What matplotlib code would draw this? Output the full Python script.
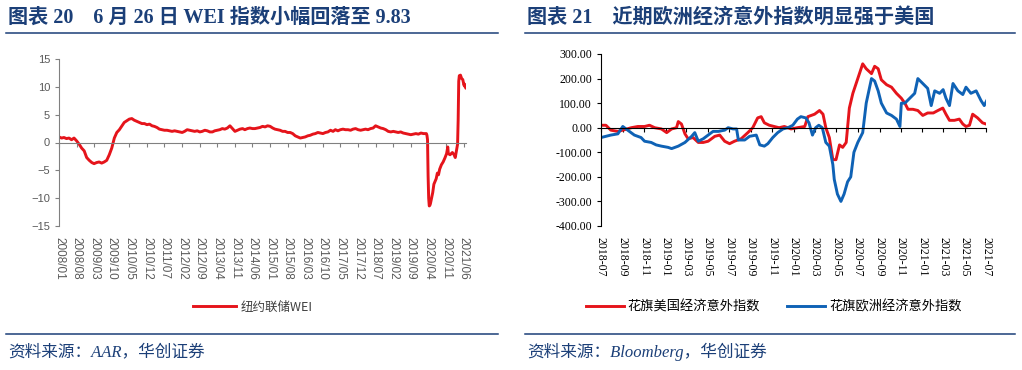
import matplotlib
matplotlib.use("Agg")
import matplotlib.pyplot as plt
from matplotlib.lines import Line2D
import pandas as pd

plt.rcParams['font.family'] = ['Liberation Sans', 'Noto Sans CJK SC']
plt.rcParams['axes.unicode_minus'] = True

# ---------------- data: left chart (NY Fed WEI) ----------------
wei_monthly = [
    1.0, 0.8, 0.9, 0.7, 0.8, 0.5, 0.8, 0.3, -0.3, -1.0, -1.5, -2.7,      # 2008
    -3.2, -3.6, -3.8, -3.6, -3.5, -3.7, -3.5, -3.2, -2.2, -1.0, 0.8, 1.8,  # 2009
    2.3, 3.0, 3.6, 3.9, 4.2, 4.3, 4.0, 3.8, 3.6, 3.4, 3.4, 3.2,          # 2010
    3.3, 3.0, 2.9, 2.7, 2.4, 2.3, 2.2, 2.2, 2.1, 2.0, 2.1, 2.0,          # 2011
    1.9, 1.8, 2.0, 2.3, 2.2, 2.1, 2.0, 2.1, 1.9, 2.0, 2.2, 2.1,          # 2012
    1.9, 1.9, 2.1, 2.2, 2.3, 2.5, 2.4, 2.6, 3.0, 2.5, 2.0, 2.2,          # 2013
    2.4, 2.5, 2.3, 2.5, 2.6, 2.5, 2.5, 2.6, 2.7, 2.9, 2.8, 3.0,          # 2014
    2.9, 2.6, 2.4, 2.3, 2.2, 2.0, 2.0, 1.8, 1.8, 1.6, 1.2, 1.0,          # 2015
    0.8, 0.9, 1.0, 1.2, 1.3, 1.5, 1.6, 1.8, 1.7, 1.6, 1.8, 1.9,          # 2016
    2.2, 2.0, 2.3, 2.1, 2.3, 2.4, 2.3, 2.3, 2.2, 2.4, 2.5, 2.3,          # 2017
    2.2, 2.3, 2.4, 2.3, 2.5, 2.6, 3.0, 2.8, 2.6, 2.5, 2.3, 2.0,          # 2018
    1.9, 2.0, 1.9, 1.8, 1.9, 1.7, 1.6, 1.5, 1.4, 1.5, 1.6, 1.5,          # 2019
    1.7, 1.6,                                                            # 2020
]
wei_recent_dates = [
    '2020-03-07', '2020-03-14', '2020-03-21', '2020-03-28', '2020-04-04',
    '2020-04-11', '2020-04-18', '2020-04-25', '2020-05-09', '2020-05-23',
    '2020-06-06', '2020-06-20', '2020-07-04', '2020-07-18', '2020-08-01',
    '2020-08-15', '2020-09-05', '2020-09-26', '2020-10-17', '2020-11-07',
    '2020-11-21', '2020-11-28', '2020-12-19', '2021-01-16', '2021-02-06',
    '2021-02-20', '2021-03-06', '2021-03-20', '2021-03-27', '2021-04-03',
    '2021-04-10', '2021-04-24', '2021-05-08', '2021-05-22', '2021-06-05',
    '2021-06-12', '2021-06-19', '2021-06-26',
]
wei_recent = [
    1.6, 1.3, 0.5, -6.0, -10.0,
    -11.4, -11.3, -11.0, -10.0, -9.0,
    -7.5, -7.0, -6.5, -5.5, -5.8,
    -4.8, -4.0, -3.5, -2.8, -2.0,
    -0.8, -2.0, -2.2, -1.8, -2.2,
    -2.7, -1.5, -0.3, 4.0, 11.0,
    12.0, 12.1, 11.5, 11.3, 10.3,
    10.5, 10.0, 9.83,
]
wei_ticks = ['2008/01', '2008/08', '2009/03', '2009/10', '2010/05', '2010/12',
             '2011/07', '2012/02', '2012/09', '2013/04', '2013/11', '2014/06',
             '2015/01', '2015/08', '2016/03', '2016/10', '2017/05', '2017/12',
             '2018/07', '2019/02', '2019/09', '2020/04', '2020/11', '2021/06']

# ---------------- data: right chart (Citi surprise indices) ----------------
us_dates = [
    '2018-07-01', '2018-07-15', '2018-07-29', '2018-08-18', '2018-09-01', '2018-09-25',
    '2018-10-14', '2018-11-02', '2018-11-16', '2018-12-01', '2018-12-20', '2019-01-04',
    '2019-01-18', '2019-02-01', '2019-02-06', '2019-02-15', '2019-02-25', '2019-03-06',
    '2019-03-20', '2019-04-04', '2019-04-18', '2019-05-02', '2019-05-21', '2019-06-04',
    '2019-06-18', '2019-07-02', '2019-07-16', '2019-08-04', '2019-08-23', '2019-09-06',
    '2019-09-20', '2019-09-30', '2019-10-09', '2019-10-23', '2019-11-06', '2019-11-20',
    '2019-12-05', '2019-12-24', '2020-01-11', '2020-02-01', '2020-02-10', '2020-02-29',
    '2020-03-14', '2020-03-24', '2020-04-01', '2020-04-11', '2020-04-21', '2020-04-30',
    '2020-05-10', '2020-05-19', '2020-05-29', '2020-06-07', '2020-06-17', '2020-07-01',
    '2020-07-15', '2020-07-25', '2020-08-09', '2020-08-18', '2020-08-28', '2020-09-06',
    '2020-09-21', '2020-10-05', '2020-10-19', '2020-11-02', '2020-11-12', '2020-11-21',
    '2020-12-05', '2020-12-19', '2021-01-02', '2021-01-16', '2021-02-01', '2021-02-14',
    '2021-02-28', '2021-03-09', '2021-03-19', '2021-04-02', '2021-04-16', '2021-04-26',
    '2021-05-05', '2021-05-15', '2021-05-24', '2021-06-07', '2021-06-21', '2021-07-01',
]
us_vals = [
    10, 10, -10, -15, -10, 0,
    5, 5, 10, 0, -5, -20,
    -5, 0, 25, 15, -25, -45,
    -40, -60, -60, -55, -35, -30,
    -55, -65, -55, -45, -20, 0,
    40, 45, 20, 10, 5, 0,
    5, -5, 0, 5, 45, 55,
    70, 55, 0, -40, -130, -130,
    -70, -80, -60, 80, 140, 200,
    260, 240, 220, 250, 240, 195,
    175, 165, 140, 120, 100, 75,
    75, 70, 50, 60, 60, 70,
    80, 55, 30, 30, 35, 15,
    5, 10, 55, 40, 20, 15,
]
eu_dates = [
    '2018-07-01', '2018-07-15', '2018-07-29', '2018-08-18', '2018-09-01', '2018-09-15',
    '2018-10-04', '2018-10-23', '2018-11-02', '2018-11-21', '2018-12-05', '2018-12-20',
    '2019-01-08', '2019-01-18', '2019-02-06', '2019-02-25', '2019-03-16', '2019-03-25',
    '2019-04-04', '2019-04-18', '2019-05-02', '2019-05-16', '2019-05-31', '2019-06-18',
    '2019-06-28', '2019-07-12', '2019-07-22', '2019-07-27', '2019-08-14', '2019-08-28',
    '2019-09-16', '2019-09-26', '2019-10-09', '2019-10-19', '2019-11-02', '2019-11-16',
    '2019-12-01', '2019-12-15', '2019-12-29', '2020-01-11', '2020-01-21', '2020-02-04',
    '2020-02-13', '2020-02-23', '2020-03-03', '2020-03-12', '2020-03-22', '2020-04-01',
    '2020-04-11', '2020-04-21', '2020-04-25', '2020-05-04', '2020-05-14', '2020-05-23',
    '2020-06-02', '2020-06-11', '2020-06-20', '2020-07-01', '2020-07-15', '2020-07-25',
    '2020-08-09', '2020-08-18', '2020-08-28', '2020-09-06', '2020-09-21', '2020-10-05',
    '2020-10-19', '2020-10-29', '2020-11-02', '2020-11-12', '2020-11-26', '2020-12-10',
    '2020-12-19', '2021-01-02', '2021-01-16', '2021-01-26', '2021-02-05', '2021-02-19',
    '2021-03-01', '2021-03-09', '2021-03-19', '2021-03-29', '2021-04-12', '2021-04-26',
    '2021-05-05', '2021-05-19', '2021-06-03', '2021-06-17', '2021-06-26', '2021-07-03',
]
eu_vals = [
    -40, -35, -30, -25, 5, -10,
    -30, -40, -55, -60, -70, -75,
    -80, -85, -75, -60, -35, -20,
    -55, -45, -30, -15, -15, -10,
    0, -5, -5, -50, -50, -35,
    -30, -70, -75, -65, -40, -20,
    -5, 0, 10, 35, 45, 40,
    20, -30, 0, 10, 0, -60,
    -75, -150, -210, -270, -300, -270,
    -220, -200, -100, -60, -20, 100,
    200, 190, 150, 100, 60, 50,
    35, 5, 100, 100, 120, 140,
    200, 180, 160, 90, 150, 140,
    155, 120, 90, 180, 150, 135,
    165, 140, 150, 110, 90, 110,
]
cesi_ticks = ['2018-07', '2018-09', '2018-11', '2019-01', '2019-03', '2019-05',
              '2019-07', '2019-09', '2019-11', '2020-01', '2020-03', '2020-05',
              '2020-07', '2020-09', '2020-11', '2021-01', '2021-03', '2021-05',
              '2021-07']

RED = '#E5141B'
BLUE = '#0F62B5'
NAVY = '#1B3F78'
W, H = 1022, 370

fig = plt.figure(figsize=(W / 100, H / 100), dpi=100)
serif_cjk = ['Liberation Serif', 'Noto Sans CJK SC']

# titles, rules, source lines
fig.text(8 / W, 1 - 18 / H, '图表 20    6 月 26 日 WEI 指数小幅回落至 9.83', family=serif_cjk,
         fontsize=14.5, fontweight='bold', color=NAVY, va='center')
fig.text(527 / W, 1 - 18 / H, '图表 21    近期欧洲经济意外指数明显强于美国', family=serif_cjk,
         fontsize=14.5, fontweight='bold', color=NAVY, va='center')
for x0, x1 in [(6, 498), (525, 1015)]:
    for yy in (33, 334):
        fig.add_artist(Line2D([x0 / W, x1 / W], [1 - yy / H] * 2, color=NAVY, lw=1.1))
fig.text(8 / W, 1 - 352 / H, '资料来源：AAR，华创证券', family=serif_cjk, style='italic',
         fontsize=12, color=NAVY, va='center')
fig.text(527 / W, 1 - 352 / H, '资料来源：Bloomberg，华创证券', family=serif_cjk, style='italic',
         fontsize=12, color=NAVY, va='center')

# ---------------- left chart ----------------
ax1 = fig.add_axes([59 / W, 1 - 226 / H, (466 - 59) / W, (226 - 59) / H])
wei_dates = list(pd.date_range('2008-01-01', periods=len(wei_monthly), freq='MS')) + \
    list(pd.to_datetime(wei_recent_dates))
wei_vals = wei_monthly + wei_recent
ax1.plot(wei_dates, wei_vals, color=RED, lw=2.1, label='纽约联储WEI')
ax1.set_ylim(-15, 15)
ax1.set_yticks([-15, -10, -5, 0, 5, 10, 15])
ax1.set_xlim(pd.Timestamp('2008-01-01'), pd.Timestamp('2021-06-30'))
tick_pos1 = pd.to_datetime([t.replace('/', '-') + '-01' for t in wei_ticks])
gray = '#808080'
for s in ['top', 'right']:
    ax1.spines[s].set_visible(False)
ax1.spines['left'].set_color(gray)
ax1.spines['bottom'].set_color(gray)
ax1.spines['bottom'].set_position(('data', 0))
ax1.set_xticks(tick_pos1)
ax1.tick_params(axis='x', length=3, color=gray, labelbottom=False)
ax1.tick_params(axis='y', length=3, color=gray, labelsize=8, labelcolor='#595959')
sec1 = ax1.secondary_xaxis('bottom')
sec1.set_xticks(tick_pos1)
sec1.set_xticklabels(wei_ticks, rotation=-90, fontsize=8.5, color='#595959')
sec1.spines['bottom'].set_visible(False)
sec1.tick_params(length=0, pad=8)
leg1 = ax1.legend(loc='center', bbox_to_anchor=(0.477, -0.485), frameon=False,
                  handlelength=3.4, handletextpad=0.4,
                  prop={'family': ['Noto Sans CJK SC'], 'size': 9})
for t in leg1.get_texts():
    t.set_color('#404040')

# ---------------- right chart ----------------
ax2 = fig.add_axes([601 / W, 1 - 226 / H, (986 - 601) / W, (226 - 54) / H])
ax2.plot(pd.to_datetime(us_dates), us_vals, color=RED, lw=2.1, label='花旗美国经济意外指数')
ax2.plot(pd.to_datetime(eu_dates), eu_vals, color=BLUE, lw=2.1, label='花旗欧洲经济意外指数')
ax2.set_ylim(-400, 300)
ax2.set_yticks(range(-400, 301, 100))
ax2.set_yticklabels([f'{v:.2f}' for v in range(-400, 301, 100)], family='Liberation Serif', fontsize=8.5)
tick_pos2 = pd.to_datetime([t + '-01' for t in cesi_ticks])
ax2.set_xlim(tick_pos2[0], tick_pos2[-1])
for s in ['top', 'right']:
    ax2.spines[s].set_visible(False)
ax2.spines['bottom'].set_position(('data', 0))
ax2.set_xticks(tick_pos2)
ax2.tick_params(axis='x', length=3, labelbottom=False)
ax2.tick_params(axis='y', length=3)
sec2 = ax2.secondary_xaxis('bottom')
sec2.set_xticks(tick_pos2)
sec2.set_xticklabels(cesi_ticks, rotation=-90, fontsize=8.5, family='Liberation Serif')
sec2.spines['bottom'].set_visible(False)
sec2.tick_params(length=0, pad=8)
ax2.legend(loc='center', bbox_to_anchor=(0.448, -0.47), ncol=2, frameon=False,
           handlelength=2.9, handletextpad=0.3, columnspacing=2.0,
           prop={'family': ['Noto Sans CJK SC'], 'size': 9.5})

fig.savefig('out.png', dpi=100)
